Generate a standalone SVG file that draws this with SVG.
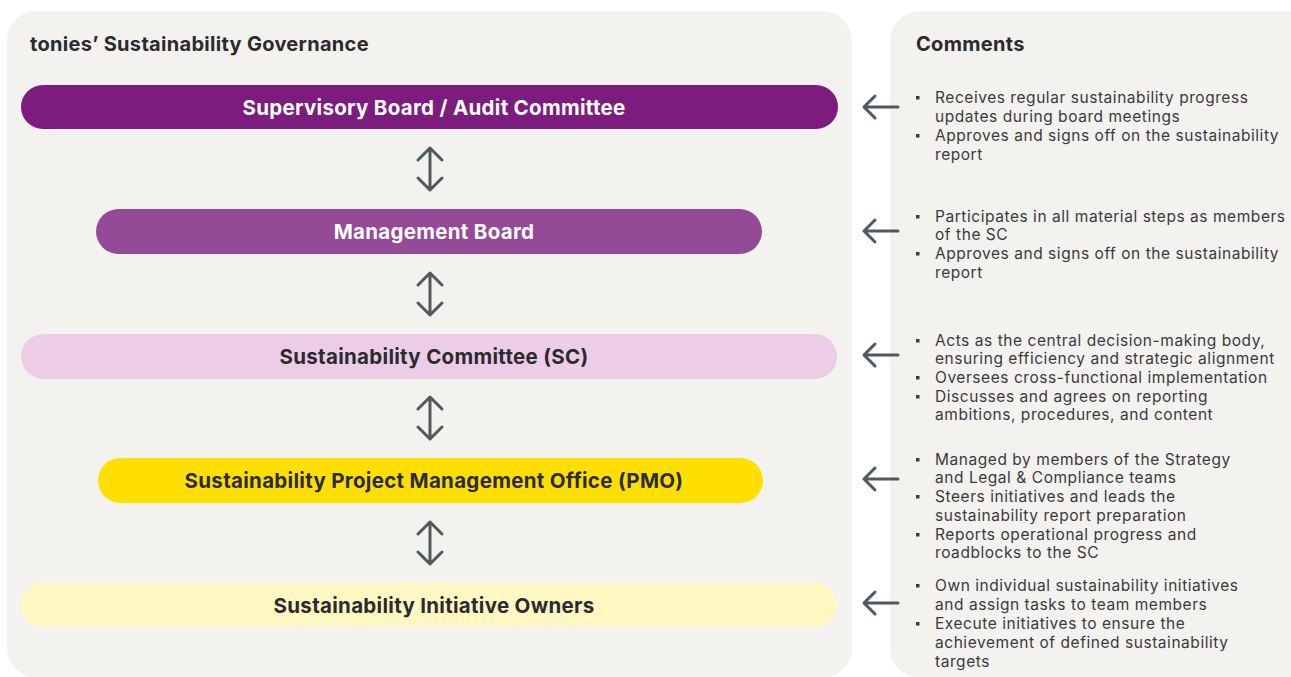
<svg xmlns="http://www.w3.org/2000/svg" width="1291" height="677" viewBox="0 0 1291 677">
  <style>
    .panel { fill: #f3f2ee; }
    .title { font-family: "Inter", "Liberation Sans", sans-serif; font-weight: 700; font-size: 20px; letter-spacing: 0.3px; fill: #2b2b2f; }
    .bar-label { font-family: "Inter", "Liberation Sans", sans-serif; font-weight: 700; font-size: 20.5px; letter-spacing: 0.3px; text-anchor: middle; }
    .light { fill: #ffffff; }
    .dark { fill: #2b2b2f; }
    .note { font-family: "Inter", "Liberation Sans", sans-serif; font-size: 15.5px; letter-spacing: 0.55px; fill: #3a3a3e; }
    .bullet { fill: #3a3a3e; }
    .arrow { fill: none; stroke: #4f5a5e; stroke-width: 3; stroke-linecap: round; stroke-linejoin: round; }
  </style>

  <!-- background panels -->
  <rect class="panel" x="7" y="11" width="845" height="667" rx="30"/>
  <rect class="panel" x="890" y="11" width="430" height="667" rx="30"/>

  <text class="title" x="30" y="51">tonies’ Sustainability Governance</text>
  <text class="title" x="916" y="51">Comments</text>

  <!-- governance levels -->
  <g id="supervisory-board">
    <rect x="21" y="85" width="817" height="44" rx="22" fill="#7b1c7e"/>
    <text class="bar-label light" x="434" y="114.5">Supervisory Board / Audit Committee</text>
  </g>
  <g id="management-board">
    <rect x="96" y="209" width="666" height="45" rx="22.5" fill="#954a98"/>
    <text class="bar-label light" x="434" y="238.5">Management Board</text>
  </g>
  <g id="sustainability-committee">
    <rect x="21" y="334" width="816" height="45" rx="22.5" fill="#ecccE6"/>
    <text class="bar-label dark" x="434" y="363.5">Sustainability Committee (SC)</text>
  </g>
  <g id="pmo">
    <rect x="98" y="458" width="665" height="45" rx="22.5" fill="#ffdf00"/>
    <text class="bar-label dark" x="434" y="487.5">Sustainability Project Management Office (PMO)</text>
  </g>
  <g id="initiative-owners">
    <rect x="21" y="583" width="816" height="44" rx="22" fill="#fff8c2"/>
    <text class="bar-label dark" x="434" y="612.5">Sustainability Initiative Owners</text>
  </g>

  <!-- connectors -->
  <g id="connectors">
    <!-- vertical double arrows between levels -->
    <path class="arrow" d="M430 148 V190 M418 160 L430 148 L442 160 M418 178 L430 190 L442 178"/>
    <path class="arrow" d="M430 273 V315 M418 285 L430 273 L442 285 M418 303 L430 315 L442 303"/>
    <path class="arrow" d="M430 397 V439 M418 409 L430 397 L442 409 M418 427 L430 439 L442 427"/>
    <path class="arrow" d="M430 522 V564 M418 534 L430 522 L442 534 M418 552 L430 564 L442 552"/>
    <!-- arrows pointing from comments to levels -->
    <path class="arrow" d="M898 107 H864 M875 96 L864 107 L875 118"/>
    <path class="arrow" d="M898 231 H864 M875 220 L864 231 L875 242"/>
    <path class="arrow" d="M898 355 H864 M875 344 L864 355 L875 366"/>
    <path class="arrow" d="M898 479 H864 M875 468 L864 479 L875 490"/>
    <path class="arrow" d="M898 603 H864 M875 592 L864 603 L875 614"/>
  </g>

  <!-- comments -->
  <g id="comments-supervisory">
    <rect class="bullet" x="916" y="96" width="3.5" height="3.5"/>
    <rect class="bullet" x="916" y="134" width="3.5" height="3.5"/>
    <text class="note" x="935" y="103">Receives regular sustainability progress</text>
    <text class="note" x="935" y="122">updates during board meetings</text>
    <text class="note" x="935" y="141">Approves and signs off on the sustainability</text>
    <text class="note" x="935" y="160">report</text>
  </g>
  <g id="comments-management">
    <rect class="bullet" x="916" y="215" width="3.5" height="3.5"/>
    <rect class="bullet" x="916" y="252" width="3.5" height="3.5"/>
    <text class="note" x="935" y="222">Participates in all material steps as members</text>
    <text class="note" x="935" y="240">of the SC</text>
    <text class="note" x="935" y="259">Approves and signs off on the sustainability</text>
    <text class="note" x="935" y="278">report</text>
  </g>
  <g id="comments-committee">
    <rect class="bullet" x="916" y="339" width="3.5" height="3.5"/>
    <rect class="bullet" x="916" y="376" width="3.5" height="3.5"/>
    <rect class="bullet" x="916" y="395" width="3.5" height="3.5"/>
    <text class="note" x="935" y="346">Acts as the central decision-making body,</text>
    <text class="note" x="935" y="364">ensuring efficiency and strategic alignment</text>
    <text class="note" x="935" y="383">Oversees cross-functional implementation</text>
    <text class="note" x="935" y="402">Discusses and agrees on reporting</text>
    <text class="note" x="935" y="420">ambitions, procedures, and content</text>
  </g>
  <g id="comments-pmo">
    <rect class="bullet" x="916" y="458" width="3.5" height="3.5"/>
    <rect class="bullet" x="916" y="495" width="3.5" height="3.5"/>
    <rect class="bullet" x="916" y="533" width="3.5" height="3.5"/>
    <text class="note" x="935" y="465">Managed by members of the Strategy</text>
    <text class="note" x="935" y="483">and Legal &amp; Compliance teams</text>
    <text class="note" x="935" y="502">Steers initiatives and leads the</text>
    <text class="note" x="935" y="521">sustainability report preparation</text>
    <text class="note" x="935" y="540">Reports operational progress and</text>
    <text class="note" x="935" y="558">roadblocks to the SC</text>
  </g>
  <g id="comments-owners">
    <rect class="bullet" x="916" y="584" width="3.5" height="3.5"/>
    <rect class="bullet" x="916" y="622" width="3.5" height="3.5"/>
    <text class="note" x="935" y="591">Own individual sustainability initiatives</text>
    <text class="note" x="935" y="610">and assign tasks to team members</text>
    <text class="note" x="935" y="629">Execute initiatives to ensure the</text>
    <text class="note" x="935" y="648">achievement of defined sustainability</text>
    <text class="note" x="935" y="667">targets</text>
  </g>
</svg>
